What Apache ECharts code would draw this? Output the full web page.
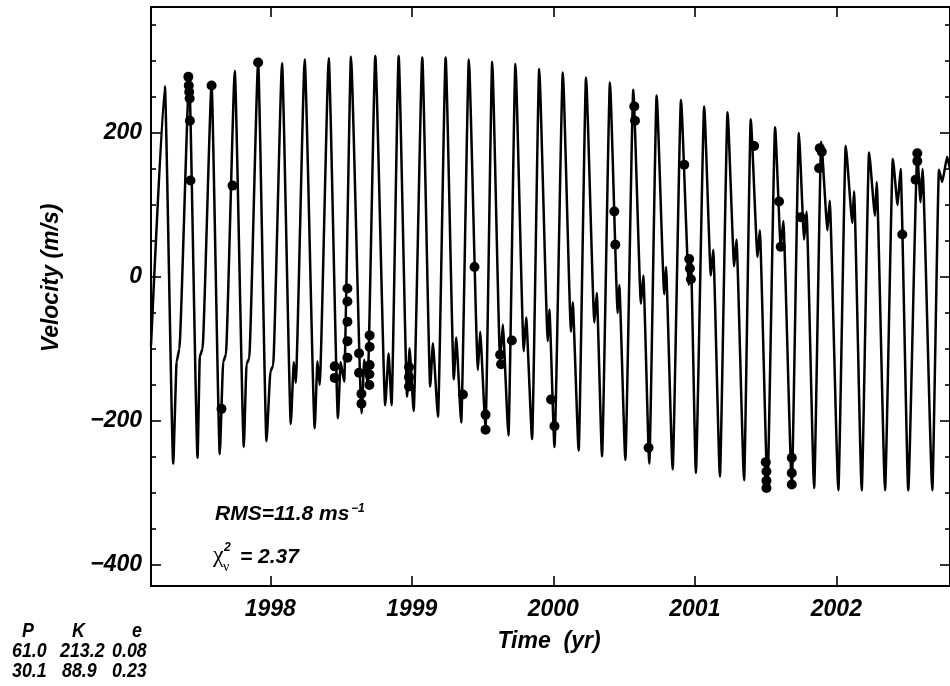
<!DOCTYPE html>
<html lang="en">
<head>
    <meta charset="UTF-8">
    <title>Velocity</title>
    <script src="https://cdn.jsdelivr.net/npm/echarts@6/dist/echarts.min.js"></script>
</head>
<body style="margin:0;background:#fff;">
    <div id="main" style="width:950px;height:686px;"></div>
    <script type="text/javascript">
        // fitted curve: peaks, dips, bumps and troughs (year, m/s)
        var curveYear = [1997.157,
            1997.255, 1997.314, 1997.338, 1997.357,
            1997.427, 1997.486, 1997.502, 1997.521,
            1997.585, 1997.643, 1997.667, 1997.686,
            1997.749, 1997.813, 1997.832, 1997.851,
            1997.914, 1997.973, 1998.001, 1998.020,
            1998.083, 1998.145, 1998.166, 1998.180,
            1998.243, 1998.314, 1998.333, 1998.349,
            1998.413, 1998.478, 1998.497, 1998.522,
            1998.570, 1998.645, 1998.664, 1998.688,
            1998.742, 1998.812, 1998.836, 1998.857,
            1998.907, 1998.967, 1998.984, 1999.013,
            1999.074, 1999.130, 1999.149, 1999.185,
            1999.239, 1999.297, 1999.314, 1999.349,
            1999.403, 1999.467, 1999.483, 1999.521,
            1999.568, 1999.624, 1999.643, 1999.683,
            1999.732, 1999.791, 1999.808, 1999.850,
            1999.900, 1999.961, 1999.972, 2000.008,
            2000.067, 2000.125, 2000.137, 2000.179,
            2000.231, 2000.290, 2000.307, 2000.344,
            2000.400, 2000.455, 2000.466, 2000.509,
            2000.565, 2000.619, 2000.636, 2000.678,
            2000.730, 2000.784, 2000.796, 2000.843,
            2000.902, 2000.958, 2000.972, 2001.007,
            2001.066, 2001.113, 2001.130, 2001.177,
            2001.231, 2001.278, 2001.294, 2001.348,
            2001.395, 2001.443, 2001.459, 2001.513,
            2001.567, 2001.607, 2001.625, 2001.685,
            2001.735, 2001.772, 2001.789, 2001.843,
            2001.893, 2001.937, 2001.953, 2002.014,
            2002.066, 2002.113, 2002.125, 2002.179,
            2002.231, 2002.273, 2002.285, 2002.344,
            2002.399, 2002.433, 2002.454, 2002.508,
            2002.572, 2002.595, 2002.609, 2002.678,
            2002.725, 2002.748, 2002.783, 2002.803];
        var curveVel = [-95,
            265, -259, -118, -100,
            279, -251, -110, -100,
            268, -246, -118, -108,
            286, -236, -121, -113,
            299, -228, -131, -123,
            297, -204, -118, -147,
            302, -210, -117, -150,
            304, -196, -118, -145,
            306, -189, -115, -148,
            307, -178, -106, -178,
            307, -166, -99, -186,
            305, -152, -92, -194,
            305, -142, -84, -202,
            302, -129, -76, -210,
            299, -116, -66, -220,
            296, -103, -56, -225,
            289, -89, -45, -236,
            284, -76, -35, -241,
            277, -63, -22, -249,
            270, -50, -11, -254,
            260, -37, 2, -259,
            252, -24, 14, -267,
            246, -11, 26, -272,
            237, 2, 38, -277,
            229, 15, 52, -282,
            219, 28, 65, -292,
            208, 41, 78, -288,
            200, 52, 91, -293,
            188, 65, 106, -296,
            182, 75, 119, -296,
            173, 85, 132, -296,
            164, 100, 150, -296,
            170, 104, 150, -296,
            149, 132, 167, 150];

        // observations
        var obsYear = [1997.421, 1997.424, 1997.427, 1997.430, 1997.432, 1997.436,
            1997.585, 1997.655, 1997.733, 1997.914,
            1998.455, 1998.455, 1998.545, 1998.545, 1998.545, 1998.545, 1998.545,
            1998.627, 1998.627, 1998.644, 1998.644,
            1998.702, 1998.702, 1998.702, 1998.700, 1998.700,
            1998.980, 1998.980, 1998.980,
            1999.361, 1999.443, 1999.521, 1999.521, 1999.624, 1999.631, 1999.707,
            1999.984, 2000.008, 2000.431, 2000.438, 2000.572, 2000.577, 2000.673,
            2000.925, 2000.960, 2000.965, 2000.972,
            2001.419, 2001.501, 2001.506, 2001.506, 2001.506,
            2001.595, 2001.607, 2001.685, 2001.685, 2001.685, 2001.748,
            2001.878, 2001.883, 2001.897,
            2002.466, 2002.560, 2002.572, 2002.572];
        var obsVel = [278, 266, 257, 248, 217, 134,
            266, -183, 127, 298,
            -124, -140, -16, -34, -62, -89, -112,
            -106, -133, -162, -176,
            -81, -97, -122, -135, -150,
            -125, -139, -152,
            -163, 14, -191, -212, -108, -121, -88,
            -170, -207, 91, 45, 237, 217, -237,
            156, 25, 12, -3,
            182, -257, -270, -283, -293,
            105, 42, -251, -272, -288, 83,
            151, 179, 174,
            59, 135, 161, 172];

        var yearTicks = [1998, 1999, 2000, 2001, 2002];
        var velTicks = [-400, -200, 0, 200];
        var xMin = 1997.157, xMax = 2002.803;
        var yMin = -429, yMax = 375;

        var yearMinor = [];
        for (var i = 1972; i <= 2028; i++) {
            if (i % 10 !== 0) yearMinor.push(i / 10);
        }
        var velMinor = [];
        for (var j = -400; j <= 350; j += 50) {
            if (j % 200 !== 0) velMinor.push(j);
        }

        var curveData = curveYear.map(function (t, k) { return [t, curveVel[k]]; });
        var obsData = obsYear.map(function (t, k) { return [t, obsVel[k]]; });

        var labelFont = {
            fontSize: 23, fontWeight: 'bold', fontStyle: 'italic',
            fontFamily: 'Liberation Sans', color: '#000'
        };
        var textFont = 'italic bold 21px "Liberation Sans"';
        var smallFont = 'italic bold 21px "Liberation Sans"';

        function xAxisDef(pos, ticks, len, withLabels) {
            return {
                type: 'value', position: pos, min: xMin, max: xMax,
                axisLine: { show: withLabels, onZero: false, lineStyle: { color: '#000', width: 2 } },
                axisTick: { inside: true, length: len, customValues: ticks, lineStyle: { color: '#000', width: 1.6 } },
                axisLabel: withLabels && pos === 'bottom'
                    ? Object.assign({
                        customValues: ticks, margin: 12,
                        formatter: function (v) { return String(Math.round(v)); }
                    }, labelFont)
                    : { show: false },
                splitLine: { show: false }
            };
        }
        function yAxisDef(pos, ticks, len, withLabels) {
            return {
                type: 'value', position: pos, min: yMin, max: yMax,
                axisLine: { show: withLabels, onZero: false, lineStyle: { color: '#000', width: 2 } },
                axisTick: { inside: true, length: len, customValues: ticks, lineStyle: { color: '#000', width: 1.6 } },
                axisLabel: withLabels && pos === 'left'
                    ? Object.assign({
                        customValues: ticks, margin: 9,
                        formatter: function (v) { return v < 0 ? '\u2212' + (-v) : '' + v; }
                    }, labelFont)
                    : { show: false },
                splitLine: { show: false }
            };
        }

        function note(x, y, txt) {
            return { type: 'text', x: x, y: y, scaleX: 0.85,
                     style: { text: txt, font: smallFont, fill: '#000', textAlign: 'left', textVerticalAlign: 'middle' } };
        }

        var myChart = echarts.init(document.getElementById('main'));

        var option = {
            animation: false,
            backgroundColor: '#fff',
            grid: { left: 151, right: -1, top: 7, bottom: 100, containLabel: false },
            xAxis: [
                xAxisDef('bottom', yearTicks, 10, true),
                xAxisDef('bottom', yearMinor, 5, false),
                xAxisDef('top', yearTicks, 10, true),
                xAxisDef('top', yearMinor, 5, false)
            ],
            yAxis: [
                yAxisDef('left', velTicks, 10, true),
                yAxisDef('left', velMinor, 5, false),
                yAxisDef('right', velTicks, 10, true),
                yAxisDef('right', velMinor, 5, false)
            ],
            series: [
                {
                    type: 'line',
                    data: curveData,
                    smooth: 0.15,
                    smoothMonotone: 'x',
                    showSymbol: false,
                    lineStyle: { color: '#000', width: 2.5 },
                    z: 2
                },
                {
                    type: 'scatter',
                    data: obsData,
                    symbol: 'circle',
                    symbolSize: 10,
                    itemStyle: { color: '#000', opacity: 1 },
                    z: 3
                }
            ],
            graphic: [
                { type: 'text', x: 52, y: 278, rotation: Math.PI / 2,
                  style: { text: 'Velocity (m/s)', font: 'italic bold 23px "Liberation Sans"', fill: '#000',
                           textAlign: 'center', textVerticalAlign: 'middle' } },
                { type: 'text', x: 549, y: 642,
                  style: { text: 'Time  (yr)', font: 'italic bold 23px "Liberation Sans"', fill: '#000',
                           textAlign: 'center', textVerticalAlign: 'middle' } },
                { type: 'text', x: 215, y: 514,
                  style: { text: 'RMS=11.8 ms', font: textFont, fill: '#000',
                           textAlign: 'left', textVerticalAlign: 'middle' } },
                { type: 'text', x: 351, y: 509,
                  style: { text: '\u22121', font: 'italic bold 12px "Liberation Sans"', fill: '#000',
                           textAlign: 'left', textVerticalAlign: 'middle' } },
                { type: 'text', x: 213, y: 556,
                  style: { text: '\u03c7', font: '24px "Liberation Serif"', fill: '#000',
                           textAlign: 'left', textVerticalAlign: 'middle' } },
                { type: 'text', x: 224, y: 548,
                  style: { text: '2', font: 'italic bold 12px "Liberation Sans"', fill: '#000',
                           textAlign: 'left', textVerticalAlign: 'middle' } },
                { type: 'text', x: 223, y: 567,
                  style: { text: '\u03bd', font: '14px "Liberation Serif"', fill: '#000',
                           textAlign: 'left', textVerticalAlign: 'middle' } },
                { type: 'text', x: 240, y: 557,
                  style: { text: '= 2.37', font: textFont, fill: '#000',
                           textAlign: 'left', textVerticalAlign: 'middle' } },
                note(22, 631, 'P'), note(72, 631, 'K'), note(132, 631, 'e'),
                note(12, 651, '61.0'), note(60, 651, '213.2'), note(112, 651, '0.08'),
                note(12, 671, '30.1'), note(62, 671, '88.9'), note(112, 671, '0.23')
            ]
        };

        myChart.setOption(option);
    </script>
</body>
</html>
